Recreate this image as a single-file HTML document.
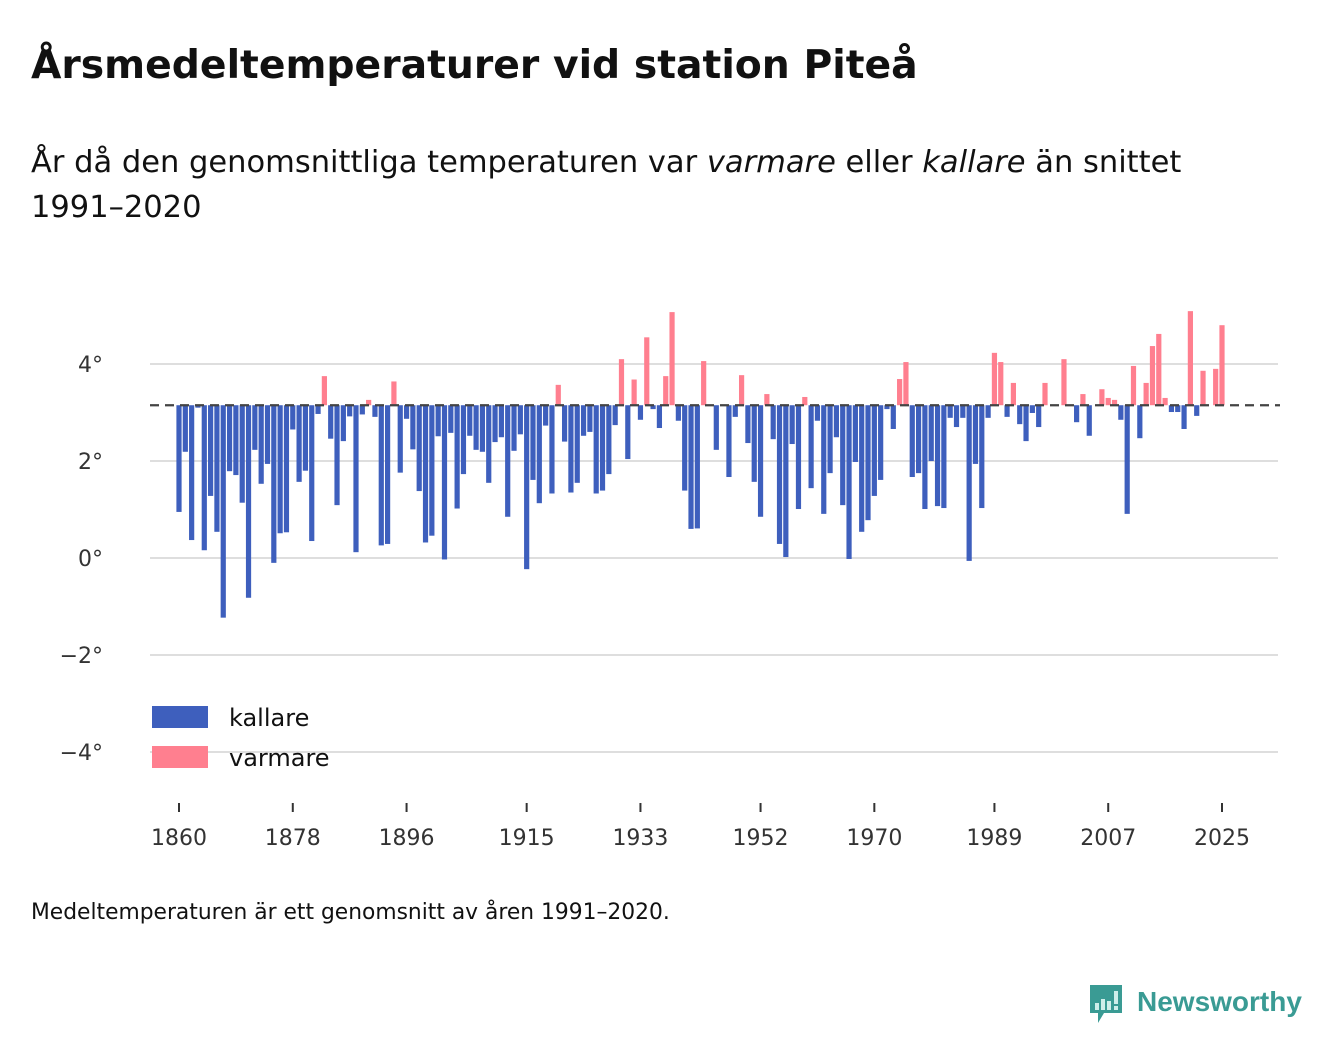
<!DOCTYPE html>
<html><head><meta charset="utf-8">
<style>
body{margin:0;background:#fff;font-family:"DejaVu Sans","Liberation Sans",sans-serif;color:#111;}
#wrap{position:relative;width:1340px;height:1056px;overflow:hidden;}
h1{position:absolute;left:31px;top:43px;margin:0;font-size:39.3px;font-weight:bold;color:#111;}
#sub{position:absolute;left:31px;top:140px;margin:0;font-size:30.5px;line-height:45px;color:#111;width:1250px;}
#foot{position:absolute;left:31px;top:900px;font-size:21.8px;color:#111;}
#logo{position:absolute;left:1088px;top:983px;}
svg text{font-family:"DejaVu Sans","Liberation Sans",sans-serif;}
</style></head><body>
<div id="wrap">
<h1>Årsmedeltemperaturer vid station Piteå</h1>
<p id="sub">År då den genomsnittliga temperaturen var <i>varmare</i> eller <i>kallare</i> än snittet<br>1991–2020</p>
<svg id="chart" width="1340" height="1056" style="position:absolute;left:0;top:0"></svg>
<div id="foot">Medeltemperaturen är ett genomsnitt av åren 1991–2020.</div>
<svg id="logo" width="230" height="45">
<path d="M2 2h32v28h-18l-6 10v-10h-8z" fill="#3a9b94"/>
<rect x="7" y="20" width="4" height="7" fill="#cfeeea"/><rect x="13" y="16" width="4" height="11" fill="#cfeeea"/><rect x="19" y="18" width="4" height="9" fill="#cfeeea"/><rect x="26" y="8" width="4" height="13" fill="#cfeeea"/><rect x="26" y="23" width="4" height="4" fill="#cfeeea"/>
<text x="49" y="28" font-size="28" font-weight="bold" fill="#3a9b94" style="font-family:'Liberation Sans',sans-serif">Newsworthy</text>
</svg>
</div>
<script>
const years = [];
for (let y = 1860; y <= 2025; y++) years.push(y);
const temps = [
0.95,2.19,0.37,3.1,0.16,1.28,0.54,-1.23,1.79,1.71,
1.14,-0.82,2.23,1.53,1.94,-0.1,0.51,0.53,2.65,1.57,
1.8,0.35,2.97,3.75,2.46,1.09,2.41,2.92,0.12,2.96,
3.26,2.91,0.26,0.29,3.64,1.76,2.87,2.24,1.38,0.32,
0.46,2.51,-0.03,2.58,1.02,1.73,2.52,2.23,2.19,1.55,
2.39,2.49,0.85,2.21,2.55,-0.23,1.61,1.13,2.73,1.33,
3.57,2.4,1.35,1.55,2.52,2.6,1.33,1.39,1.73,2.74,
4.1,2.04,3.68,2.85,4.55,3.07,2.68,3.75,5.07,2.83,
1.39,0.6,0.61,4.06,null,2.23,null,1.67,2.91,3.77,
2.37,1.57,0.85,3.38,2.45,0.29,0.02,2.35,1.01,3.32,
1.44,2.83,0.91,1.75,2.49,1.09,-0.02,1.98,0.54,0.78,
1.28,1.61,3.07,2.66,3.69,4.04,1.67,1.75,1.01,2.0,
1.07,1.03,2.89,2.7,2.89,-0.06,1.94,1.03,2.89,4.23,
4.04,2.91,3.61,2.76,2.41,2.99,2.7,3.61,null,null,
4.1,null,2.8,3.38,2.52,null,3.48,3.3,3.26,2.85,
0.91,3.96,2.47,3.61,4.37,4.62,3.3,3.01,3.01,2.66,
5.09,2.93,3.86,null,3.9,4.8];
const mean = 3.15;
const yTicks = [4,2,0,-2,-4];
const yTickLabels = ["4°","2°","0°","−2°","−4°"];
const xTicks = [1860,1878,1896,1915,1933,1952,1970,1989,2007,2025];
const legendLabels = ["kallare","varmare"];

const NS="http://www.w3.org/2000/svg";
const svg=document.getElementById('chart');
const xS = yr => 179 + (yr-1860)*(1222-179)/165;
const yS = v => 558 - v*48.5;
function mk(tag, attrs){const e=document.createElementNS(NS,tag);for(const k in attrs)e.setAttribute(k,attrs[k]);svg.appendChild(e);return e;}

yTicks.forEach((t,i)=>{
  const g=mk('line',{x1:150,x2:1278,y1:yS(t),y2:yS(t),stroke:'#dedede','stroke-width':2});
  
  
  const l=mk('text',{x:103,y:yS(t)+8,'text-anchor':'end','font-size':22,fill:'#333'});
  l.textContent=yTickLabels[i];
  
  
});
xTicks.forEach(t=>{
  const tk=mk('line',{x1:xS(t),x2:xS(t),y1:803,y2:812,stroke:'#333','stroke-width':2});
  
  
  const l=mk('text',{x:xS(t),y:845,'text-anchor':'middle','font-size':22,fill:'#333'});
  l.textContent=t;
  
  
});
years.forEach((yr,i)=>{
  const v=temps[i];
  if(v===null||v===undefined)return;
  const y0=yS(mean), y1=yS(v);
  const r=mk('rect',{x:xS(yr)-2.6,width:5.2,y:Math.min(y0,y1),height:Math.max(0.5,Math.abs(y1-y0)),fill:v>=mean?'#ff7f8f':'#3e5fbd'});
  
  
});
const base=mk('line',{x1:150,x2:1280,y1:yS(mean),y2:yS(mean),stroke:'#444','stroke-width':2.2,'stroke-dasharray':'9,6'});


const lb=mk('rect',{x:152,y:706,width:56,height:22,fill:'#3e5fbd'});


const lr=mk('rect',{x:152,y:746,width:56,height:22,fill:'#ff7f8f'});


const t1=mk('text',{x:229,y:726,'font-size':24,fill:'#111'});
t1.textContent=legendLabels[0];


const t2=mk('text',{x:229,y:766,'font-size':24,fill:'#111'});
t2.textContent=legendLabels[1];


</script>
</body></html>
